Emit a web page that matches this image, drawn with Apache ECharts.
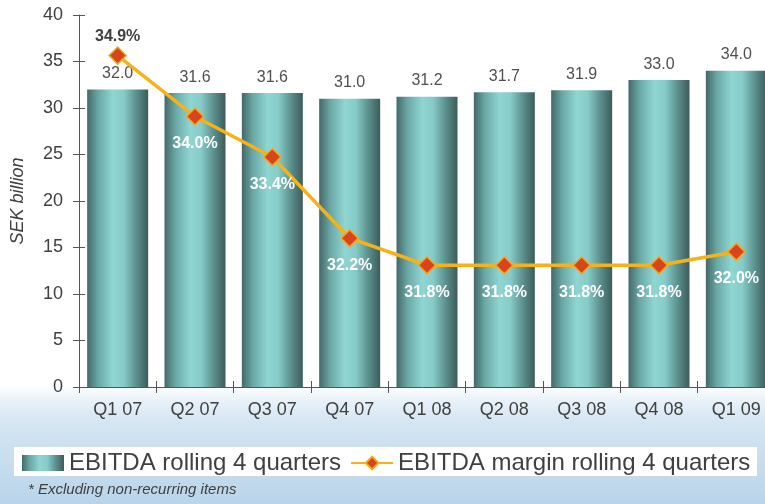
<!DOCTYPE html>
<html><head><meta charset="utf-8">
<script src="https://cdn.jsdelivr.net/npm/echarts@6/dist/echarts.min.js"></script>
<style>html,body{margin:0;padding:0;background:#fff}#c{width:765px;height:504px}</style>
</head><body><div id="c"></div>
<script>
const categories = ['Q1 07','Q2 07','Q3 07','Q4 07','Q1 08','Q2 08','Q3 08','Q4 08','Q1 09'];
const ebitda = [32.0, 31.6, 31.6, 31.0, 31.2, 31.7, 31.9, 33.0, 34.0];
const margin = [34.9, 34.0, 33.4, 32.2, 31.8, 31.8, 31.8, 31.8, 32.0];
const yTicks = [0, 40, 5];
const FONT = '"Liberation Sans", Arial, sans-serif';
const barGrad = {type:'linear',x:0,y:0,x2:1,y2:0,colorStops:[
  {offset:0,color:'#436968'},{offset:0.18,color:'#6aa7a5'},{offset:0.42,color:'#8fd5d2'},
  {offset:0.6,color:'#86cbc8'},{offset:0.82,color:'#588c8a'},{offset:1,color:'#3d5c5b'}]};
const chart = echarts.init(document.getElementById('c'), null, {renderer:'canvas'});
chart.setOption({
  animation:false,
  backgroundColor:'#fff',
  textStyle:{fontFamily:FONT},
  graphic:[
    {type:'rect',z:-10,silent:true,shape:{x:0,y:385,width:765,height:119},
     style:{fill:{type:'linear',x:0,y:0,x2:0,y2:1,colorStops:[{offset:0,color:'rgba(200,222,240,0)'},{offset:0.3,color:'#d6e6f3'},{offset:1,color:'#b9d4ea'}]}}},
    {type:'rect',z:-5,silent:true,shape:{x:14,y:447,width:743,height:29},style:{fill:'#ffffff'}},
    {type:'text',left:28,top:482,style:{text:'* Excluding non-recurring items',font:'italic 15px '+FONT,fill:'#404040'}}
  ],
  grid:{left:79,right:-10,top:15,bottom:117,outerBoundsMode:'none',containLabel:false},
  legend:{left:17,top:446,itemWidth:42,itemHeight:16,itemGap:9,
    textStyle:{fontSize:24,color:'#404040',fontFamily:FONT},
    data:[{name:'EBITDA rolling 4 quarters',icon:'rect'},{name:'EBITDA margin rolling 4 quarters'}]},
  xAxis:[
    {type:'category',data:categories,
     axisLine:{lineStyle:{color:'#555',width:1}},
     axisTick:{show:true,length:6,lineStyle:{color:'#555'}},
     axisLabel:{fontSize:18,color:'#404040',margin:14,fontFamily:FONT}},
    {type:'category',data:categories,position:'bottom',
     axisLine:{show:false},axisTick:{show:true,inside:true,length:6,lineStyle:{color:'#555'}},
     axisLabel:{show:false}}
  ],
  yAxis:[
    {type:'value',min:yTicks[0],max:yTicks[1],interval:yTicks[2],
     name:'SEK billion',nameLocation:'middle',nameGap:52,nameRotate:90,
     nameTextStyle:{fontSize:18,fontStyle:'italic',color:'#404040',fontFamily:FONT},
     axisLine:{show:true,lineStyle:{color:'#555'}},
     axisTick:{show:true,length:6,lineStyle:{color:'#555'}},
     axisLabel:{fontSize:18,color:'#404040',margin:16,fontFamily:FONT},
     splitLine:{show:false}},
    {type:'value',min:30,max:35.5,show:false,splitLine:{show:false}},
    {type:'value',min:yTicks[0],max:yTicks[1],interval:yTicks[2],position:'left',
     axisLine:{show:false},axisTick:{show:true,inside:true,length:6,lineStyle:{color:'#555'}},
     axisLabel:{show:false},splitLine:{show:false}}
  ],
  series:[
    {name:'EBITDA rolling 4 quarters',type:'bar',data:ebitda,barWidth:61,
     itemStyle:{color:barGrad},
     label:{show:true,position:'top',distance:8,fontSize:16,color:'#505050',fontFamily:FONT,
       formatter:p=>p.value.toFixed(1)}},
    {name:'EBITDA margin rolling 4 quarters',type:'line',yAxisIndex:1,
     data:margin.map((v,i)=>i===0?{value:v,label:{position:'top',color:'#404040',distance:2}}:v),
     symbol:'diamond',symbolSize:17,
     lineStyle:{color:'#f7b21a',width:3.5},
     itemStyle:{color:'#d9451a',borderColor:'#f7a51e',borderWidth:1.5},
     label:{show:true,position:'bottom',distance:10,fontSize:16,fontWeight:'bold',color:'#ffffff',fontFamily:FONT,
       formatter:p=>p.value.toFixed(1)+'%'},
     z:5}
  ]
});
</script></body></html>
